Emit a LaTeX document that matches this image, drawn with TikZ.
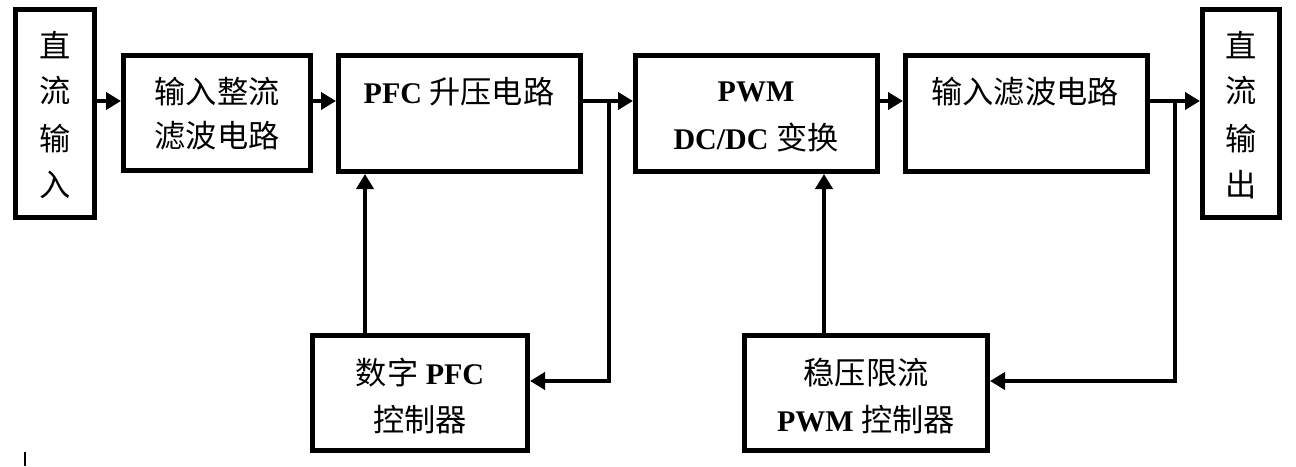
\documentclass[tikz,border=0pt]{standalone}
\usepackage{fontspec}
\setmainfont{Liberation Serif}
\newfontfamily\cjk[Scale=1.04]{Noto Sans CJK SC}
\usetikzlibrary{arrows.meta}
\begin{document}
\begin{tikzpicture}[x=1pt,y=-1pt,
  blk/.style={draw=black, line width=5pt, rectangle, inner sep=0pt},
  txt/.style={inner sep=0pt, font=\fontsize{30}{46}\selectfont, align=center},
  arr/.style={line width=4pt, -{Triangle[length=15pt,width=17pt]}},
  ln/.style={line width=4pt}]
\useasboundingbox (0,0) rectangle (1296,466);
% blocks
\node[blk, minimum width=79pt, minimum height=208pt] (b1) at (55,113.5) {};
\node[blk, minimum width=187pt, minimum height=115pt] (b2) at (217,113) {};
\node[blk, minimum width=242pt, minimum height=116pt] (b3) at (459.5,113.5) {};
\node[blk, minimum width=242pt, minimum height=116pt] (b4) at (756.5,113.5) {};
\node[blk, minimum width=242pt, minimum height=116pt] (b5) at (1026.5,113.5) {};
\node[blk, minimum width=77pt, minimum height=208pt] (b6) at (1241,113.5) {};
\node[blk, minimum width=215pt, minimum height=115pt] (b7) at (420,393) {};
\node[blk, minimum width=243pt, minimum height=115pt] (b8) at (866,393) {};
% texts
\node[txt] (t1a) at (55,45) {\cjk 直};
\node[txt] (t1b) at (55,91) {\cjk 流};
\node[txt] (t1c) at (55,139) {\cjk 输};
\node[txt] (t1d) at (55,185) {\cjk 入};
\node[txt] (t2a) at (217,92) {\cjk 输入整流};
\node[txt] (t2b) at (217,136) {\cjk 滤波电路};
\node[txt] (t3) at (459,92) {\textbf{PFC} {\cjk 升压电路}};
\node[txt] (t4a) at (756,92) {\textbf{PWM}};
\node[txt] (t4b) at (756,138) {\textbf{DC/DC} {\cjk 变换}};
\node[txt] (t5) at (1025,92) {\cjk 输入滤波电路};
\node[txt] (t6a) at (1241,45) {\cjk 直};
\node[txt] (t6b) at (1241,91) {\cjk 流};
\node[txt] (t6c) at (1241,139) {\cjk 输};
\node[txt] (t6d) at (1241,185) {\cjk 出};
\node[txt] (t7a) at (420,373) {{\cjk 数字} \textbf{PFC}};
\node[txt] (t7b) at (420,420) {\cjk 控制器};
\node[txt] (t8a) at (866,373) {\cjk 稳压限流};
\node[txt] (t8b) at (866,420) {\textbf{PWM} {\cjk 控制器}};
% reference coordinates
\coordinate (bus) at (0,101);
\coordinate (fb) at (0,381);
\coordinate (j1) at (608.5,101);
\coordinate (j2) at (1175,101);
% connectors
\draw[arr] (b1.east |- bus) -- (b2.west |- bus);
\draw[arr] (b2.east |- bus) -- (b3.west |- bus);
\draw[arr] (b3.east |- bus) -- (b4.west |- bus);
\draw[arr] (b4.east |- bus) -- (b5.west |- bus);
\draw[arr] (b5.east |- bus) -- (b6.west |- bus);
\draw[arr] ([yshift=-2pt]j1) -- (j1 |- fb) -- (b7.east |- fb);
\draw[arr] ([yshift=-2pt]j2) -- (j2 |- fb) -- (b8.east |- fb);
\draw[arr] (b7.north -| 365,0) -- (b3.south -| 365,0);
\draw[arr] (b8.north -| 824,0) -- (b4.south -| 824,0);
% small mark
\draw[line width=1.5pt] (25,452) -- (25,466);
\end{tikzpicture}
\end{document}
